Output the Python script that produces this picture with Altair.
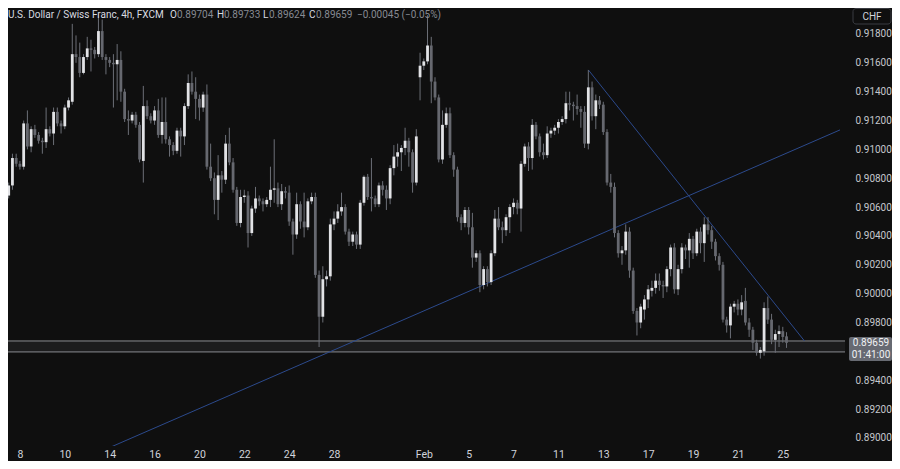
import json
import altair as alt
import pandas as pd

# ---------------- data (USD/CHF, 4h candles, FXCM) ----------------
OPEN = [
    0.9039, 0.9068, 0.9075, 0.9094, 0.9090, 0.9088, 0.9118, 0.9102, 0.9114, 0.9110,
    0.9106, 0.9105, 0.9114, 0.9111, 0.9126, 0.9118, 0.9116, 0.9129, 0.9133, 0.9166,
    0.9164, 0.9153, 0.9164, 0.9170, 0.9169, 0.9166, 0.9182, 0.9164, 0.9162, 0.9160,
    0.9159, 0.9162, 0.9140, 0.9121, 0.9120, 0.9124, 0.9117, 0.9092, 0.9130, 0.9123,
    0.9120, 0.9127, 0.9110, 0.9119, 0.9107, 0.9103, 0.9099, 0.9113, 0.9109, 0.9130,
    0.9146, 0.9140, 0.9135, 0.9129, 0.9138, 0.9088, 0.9080, 0.9065, 0.9082, 0.9079,
    0.9104, 0.9091, 0.9072, 0.9049, 0.9067, 0.9068, 0.9042, 0.9059, 0.9066, 0.9064,
    0.9062, 0.9065, 0.9072, 0.9073, 0.9062, 0.9071, 0.9070, 0.9050, 0.9041, 0.9062,
    0.9050, 0.9046, 0.9064, 0.9067, 0.9013, 0.8984, 0.9010, 0.9012, 0.9048, 0.9052,
    0.9057, 0.9060, 0.9043, 0.9036, 0.9041, 0.9034, 0.9063, 0.9081, 0.9067, 0.9066,
    0.9062, 0.9075, 0.9072, 0.9066, 0.9087, 0.9095, 0.9098, 0.9101, 0.9106, 0.9098,
    0.9077, 0.9150, 0.9158, 0.9161, 0.9172, 0.9147, 0.9136, 0.9093, 0.9117, 0.9125,
    0.9096, 0.9086, 0.9053, 0.9049, 0.9058, 0.9046, 0.9025, 0.9028, 0.9006, 0.9017,
    0.9008, 0.9028, 0.9052, 0.9046, 0.9044, 0.9053, 0.9060, 0.9063, 0.9059, 0.9090,
    0.9102, 0.9094, 0.9117, 0.9109, 0.9098, 0.9096, 0.9111, 0.9113, 0.9115, 0.9119,
    0.9121, 0.9132, 0.9131, 0.9130, 0.9128, 0.9126, 0.9104, 0.9143, 0.9123, 0.9134,
    0.9131, 0.9112, 0.9077, 0.9074, 0.9042, 0.9028, 0.9030, 0.9043, 0.9016, 0.8988,
    0.8980, 0.8989, 0.8996, 0.9002, 0.9004, 0.9009, 0.9006, 0.9005, 0.9017, 0.9032,
    0.9003, 0.9017, 0.9032, 0.9030, 0.9038, 0.9028, 0.9043, 0.9035, 0.9048, 0.9044,
    0.9036, 0.9026, 0.9020, 0.8982, 0.8978, 0.8991, 0.8993, 0.8989, 0.8995, 0.8980,
    0.8975, 0.8966, 0.8959, 0.8960, 0.8990, 0.8982, 0.8968, 0.8972, 0.8974, 0.89704,
]
HIGH = [
    0.9072, 0.9077, 0.9097, 0.9097, 0.9092, 0.9120, 0.9127, 0.9116, 0.9117, 0.9112,
    0.9108, 0.9129, 0.9116, 0.9129, 0.9129, 0.9120, 0.9131, 0.9136, 0.9187, 0.9179,
    0.9174, 0.9166, 0.9178, 0.9176, 0.9171, 0.9194, 0.9190, 0.9166, 0.9164, 0.9166,
    0.9173, 0.9168, 0.9142, 0.9127, 0.9126, 0.9126, 0.9119, 0.9144, 0.9134, 0.9125,
    0.9130, 0.9135, 0.9136, 0.9136, 0.9109, 0.9105, 0.9115, 0.9115, 0.9132, 0.9152,
    0.9154, 0.9150, 0.9138, 0.9140, 0.9145, 0.9104, 0.9084, 0.9096, 0.9085, 0.9110,
    0.9115, 0.9094, 0.9074, 0.9072, 0.9072, 0.9071, 0.9061, 0.9074, 0.9068, 0.9066,
    0.9067, 0.9088, 0.9107, 0.9077, 0.9076, 0.9074, 0.9075, 0.9052, 0.9070, 0.9064,
    0.9070, 0.9066, 0.9070, 0.9070, 0.9016, 0.9019, 0.9016, 0.9052, 0.9057, 0.9062,
    0.9070, 0.9062, 0.9045, 0.9043, 0.9043, 0.9065, 0.9082, 0.9083, 0.9094, 0.9068,
    0.9077, 0.9078, 0.9075, 0.9089, 0.9103, 0.9104, 0.9103, 0.9115, 0.9108, 0.9100,
    0.9114, 0.9167, 0.9163, 0.9193, 0.9178, 0.9150, 0.9138, 0.9127, 0.9129, 0.9129,
    0.9098, 0.9088, 0.9055, 0.9060, 0.9060, 0.9056, 0.9030, 0.9030, 0.9019, 0.9019,
    0.9030, 0.9058, 0.9060, 0.9050, 0.9055, 0.9062, 0.9066, 0.9065, 0.9092, 0.9104,
    0.9105, 0.9121, 0.9119, 0.9111, 0.9104, 0.9116, 0.9115, 0.9117, 0.9121, 0.9123,
    0.9140, 0.9140, 0.9133, 0.9138, 0.9130, 0.9130, 0.9155, 0.9147, 0.9138, 0.9137,
    0.9133, 0.9114, 0.9083, 0.9077, 0.9044, 0.9033, 0.9048, 0.9046, 0.9018, 0.8990,
    0.8993, 0.8999, 0.9006, 0.9009, 0.9014, 0.9014, 0.9009, 0.9019, 0.9034, 0.9035,
    0.9020, 0.9035, 0.9034, 0.9042, 0.9040, 0.9045, 0.9046, 0.9053, 0.9053, 0.9047,
    0.9038, 0.9028, 0.9022, 0.8984, 0.8993, 0.8995, 0.8996, 0.8999, 0.9004, 0.8983,
    0.8977, 0.8968, 0.8963, 0.8994, 0.8998, 0.8986, 0.8975, 0.8978, 0.8977, 0.89733,
]
LOW = [
    0.9037, 0.9066, 0.9072, 0.9088, 0.9086, 0.9086, 0.9100, 0.9098, 0.9108, 0.9104,
    0.9097, 0.9101, 0.9109, 0.9103, 0.9116, 0.9111, 0.9114, 0.9127, 0.9131, 0.9160,
    0.9150, 0.9152, 0.9162, 0.9154, 0.9163, 0.9164, 0.9162, 0.9152, 0.9157, 0.9129,
    0.9134, 0.9133, 0.9119, 0.9110, 0.9118, 0.9115, 0.9091, 0.9077, 0.9121, 0.9118,
    0.9117, 0.9108, 0.9104, 0.9104, 0.9095, 0.9096, 0.9097, 0.9095, 0.9103, 0.9128,
    0.9138, 0.9121, 0.9120, 0.9126, 0.9086, 0.9078, 0.9055, 0.9051, 0.9070, 0.9076,
    0.9089, 0.9070, 0.9047, 0.9046, 0.9063, 0.9032, 0.9040, 0.9056, 0.9061, 0.9057,
    0.9060, 0.9060, 0.9063, 0.9060, 0.9058, 0.9066, 0.9047, 0.9027, 0.9038, 0.9045,
    0.9039, 0.9044, 0.9062, 0.9011, 0.8963, 0.8980, 0.9005, 0.9009, 0.9044, 0.9049,
    0.9054, 0.9041, 0.9033, 0.9033, 0.9031, 0.9031, 0.9061, 0.9065, 0.9057, 0.9060,
    0.9060, 0.9068, 0.9058, 0.9062, 0.9082, 0.9088, 0.9085, 0.9096, 0.9088, 0.9070,
    0.9075, 0.9134, 0.9155, 0.9159, 0.9132, 0.9134, 0.9091, 0.9090, 0.9115, 0.9094,
    0.9081, 0.9050, 0.9044, 0.9046, 0.9041, 0.9018, 0.9022, 0.9001, 0.9003, 0.9005,
    0.9006, 0.9026, 0.9044, 0.9035, 0.9040, 0.9042, 0.9055, 0.9055, 0.9043, 0.9088,
    0.9085, 0.9086, 0.9107, 0.9095, 0.9093, 0.9094, 0.9108, 0.9110, 0.9111, 0.9117,
    0.9118, 0.9127, 0.9120, 0.9124, 0.9115, 0.9101, 0.9100, 0.9120, 0.9114, 0.9128,
    0.9110, 0.9075, 0.9070, 0.9039, 0.9025, 0.9020, 0.9027, 0.9011, 0.8986, 0.8971,
    0.8976, 0.8982, 0.8990, 0.8998, 0.9000, 0.9002, 0.8997, 0.9001, 0.9012, 0.9000,
    0.8999, 0.9014, 0.9024, 0.9018, 0.9024, 0.9026, 0.9028, 0.9022, 0.9041, 0.9031,
    0.9023, 0.9016, 0.8980, 0.8973, 0.8969, 0.8987, 0.8985, 0.8985, 0.8978, 0.8970,
    0.8961, 0.8957, 0.8955, 0.8957, 0.8979, 0.8965, 0.8959, 0.8963, 0.8966, 0.89624,
]
CLOSE = [
    0.9068, 0.9075, 0.9094, 0.9090, 0.9088, 0.9118, 0.9102, 0.9114, 0.9110, 0.9106,
    0.9105, 0.9114, 0.9111, 0.9126, 0.9118, 0.9116, 0.9129, 0.9134, 0.9166, 0.9164,
    0.9153, 0.9164, 0.9170, 0.9169, 0.9166, 0.9182, 0.9164, 0.9162, 0.9160, 0.9159,
    0.9162, 0.9140, 0.9121, 0.9120, 0.9124, 0.9117, 0.9093, 0.9130, 0.9123, 0.9120,
    0.9127, 0.9110, 0.9119, 0.9107, 0.9103, 0.9099, 0.9113, 0.9109, 0.9130, 0.9146,
    0.9140, 0.9135, 0.9129, 0.9138, 0.9088, 0.9080, 0.9065, 0.9082, 0.9079, 0.9104,
    0.9091, 0.9072, 0.9049, 0.9067, 0.9068, 0.9042, 0.9059, 0.9066, 0.9064, 0.9062,
    0.9065, 0.9072, 0.9073, 0.9062, 0.9071, 0.9070, 0.9050, 0.9041, 0.9062, 0.9050,
    0.9046, 0.9064, 0.9067, 0.9013, 0.8984, 0.9010, 0.9012, 0.9048, 0.9052, 0.9057,
    0.9060, 0.9043, 0.9036, 0.9041, 0.9034, 0.9063, 0.9081, 0.9067, 0.9066, 0.9062,
    0.9075, 0.9072, 0.9066, 0.9087, 0.9095, 0.9098, 0.9101, 0.9106, 0.9098, 0.9077,
    0.9109, 0.9158, 0.9161, 0.9172, 0.9147, 0.9136, 0.9093, 0.9117, 0.9125, 0.9096,
    0.9086, 0.9053, 0.9049, 0.9058, 0.9046, 0.9025, 0.9028, 0.9006, 0.9017, 0.9008,
    0.9028, 0.9052, 0.9046, 0.9044, 0.9053, 0.9060, 0.9063, 0.9059, 0.9090, 0.9102,
    0.9094, 0.9117, 0.9109, 0.9098, 0.9096, 0.9111, 0.9113, 0.9115, 0.9119, 0.9121,
    0.9132, 0.9131, 0.9130, 0.9128, 0.9126, 0.9104, 0.9143, 0.9123, 0.9134, 0.9131,
    0.9112, 0.9077, 0.9074, 0.9042, 0.9028, 0.9030, 0.9043, 0.9016, 0.8988, 0.8980,
    0.8991, 0.8996, 0.9003, 0.9004, 0.9009, 0.9006, 0.9005, 0.9017, 0.9032, 0.9003,
    0.9017, 0.9032, 0.9030, 0.9038, 0.9028, 0.9043, 0.9035, 0.9048, 0.9044, 0.9036,
    0.9026, 0.9020, 0.8982, 0.8978, 0.8991, 0.8993, 0.8989, 0.8994, 0.8980, 0.8975,
    0.8966, 0.8959, 0.8961, 0.8990, 0.8982, 0.8968, 0.8972, 0.8974, 0.8970, 0.89659,
]

# day labels (bar index of the first 4h bar of each labelled day)
DAY_TICKS = [4, 16, 28, 40, 52, 64, 76, 88, 112, 124, 136, 148, 160, 172, 184, 196, 208]
DAY_LABELS = ["8", "10", "14", "16", "20", "22", "24", "28", "Feb",
              "5", "7", "11", "13", "17", "19", "21", "25"]
PRICE_TICKS = [0.890, 0.892, 0.894, 0.898, 0.900, 0.902, 0.904, 0.906,
               0.908, 0.910, 0.912, 0.914, 0.916, 0.918]

# drawn objects (bar index, price)
RISE_K = [27.79, 223.3]
RISE_P = [0.88931, 0.91135]
FALL_K = [156.0, 213.8]
FALL_P = [0.91551, 0.89672]
ZONE = [0.89596, 0.89672]

HEADER_TITLE = "U.S. Dollar / Swiss Franc, 4h, FXCM"
OHLC_LETTERS = ["O", "H", "L", "C"]
OHLC_VALUES = ["0.89704", "0.89733", "0.89624", "0.89659"]
CHANGE_TEXT = "\u22120.00045 (\u22120.05%)"
LAST_PRICE_TEXT = "0.89659"
COUNTDOWN_TEXT = "01:41:00"

# ---------------- style ----------------
W, H = 837, 438
XDOM = [2.15, 223.3]
YDOM = [0.88944, 0.91980]
BG = "#0f0f0f"
BULL = "#e2e3e6"
BEAR = "#66686f"
WICK = "#6c6f77"
BLUE = "#2c4a8c"
FONT = "Roboto"

df = pd.DataFrame({"k": list(range(len(CLOSE))), "o": OPEN, "h": HIGH, "l": LOW, "c": CLOSE})
df["dir"] = ["up" if c >= o else "down" for o, c in zip(OPEN, CLOSE)]

xs = alt.Scale(domain=XDOM, nice=False, zero=False)
ys = alt.Scale(domain=YDOM, nice=False, zero=False)

label_expr = f"{json.dumps(DAY_LABELS)}[indexof({json.dumps(DAY_TICKS)}, datum.value)]"
X_AXIS = alt.Axis(
    values=DAY_TICKS, labelExpr=label_expr, title=None, grid=False, domain=False,
    ticks=False, tickSize=0, labelPadding=3, labelColor="#d1d4dc", labelFontSize=10.5,
    labelFont=FONT, labelOverlap=False, labelFlush=False,
    labelFontWeight={"condition": {"test": "datum.label == 'Feb'", "value": "bold"}, "value": "normal"},
)
Y_AXIS = alt.Axis(
    orient="right", values=PRICE_TICKS, format=".5f", title=None, grid=False,
    domain=False, ticks=False, tickSize=0, labelPadding=10, labelColor="#c5c7cc",
    labelFontSize=10, labelFont=FONT, labelAlign="left",
)

zone = alt.Chart(pd.DataFrame({"lo": [ZONE[0]], "hi": [ZONE[1]]})).mark_rect(
    color="#1c1c1d"
).encode(
    y=alt.Y("lo:Q", scale=ys, axis=Y_AXIS), y2="hi:Q", x=alt.value(0), x2=alt.value(W)
)
zone_lines = alt.Chart(pd.DataFrame({"p": ZONE})).mark_rule(
    color="#8a8c90", strokeWidth=1
).encode(y=alt.Y("p:Q", scale=ys, axis=Y_AXIS))

wicks = alt.Chart(df).mark_rule(color=WICK, strokeWidth=1, clip=True).encode(
    x=alt.X("k:Q", scale=xs, axis=X_AXIS),
    y=alt.Y("l:Q", scale=ys, axis=Y_AXIS),
    y2="h:Q",
)
bodies = alt.Chart(df).mark_bar(size=2.8, clip=True).encode(
    x=alt.X("k:Q", scale=xs, axis=X_AXIS),
    y=alt.Y("o:Q", scale=ys, axis=Y_AXIS),
    y2="c:Q",
    color=alt.Color("dir:N", scale=alt.Scale(domain=["up", "down"], range=[BULL, BEAR]), legend=None),
)

rise = alt.Chart(pd.DataFrame({"k": RISE_K, "p": RISE_P})).mark_line(
    color=BLUE, strokeWidth=1, clip=True
).encode(x=alt.X("k:Q", scale=xs, axis=X_AXIS), y=alt.Y("p:Q", scale=ys, axis=Y_AXIS))
fall = alt.Chart(pd.DataFrame({"k": FALL_K, "p": FALL_P})).mark_line(
    color=BLUE, strokeWidth=1, clip=True
).encode(x=alt.X("k:Q", scale=xs, axis=X_AXIS), y=alt.Y("p:Q", scale=ys, axis=Y_AXIS))

one = pd.DataFrame({"a": [0]})


def label(text, x, y, color, size=10.5, weight="normal", align="left"):
    return alt.Chart(one).mark_text(
        text=text, font=FONT, fontSize=size, color=color, fontWeight=weight,
        align=align, baseline="middle",
    ).encode(x=alt.value(x), y=alt.value(y))


HY = 7
header = [label(HEADER_TITLE, 0, HY, "#d9dbe0", size=10)]
for letter, value, lx, vx in zip(OHLC_LETTERS, OHLC_VALUES, [162, 209, 255, 301], [169, 216, 261, 308]):
    header.append(label(letter, lx, HY, "#d9dbe0", size=10))
    header.append(label(value, vx, HY, "#878a92", size=10))
header.append(label(CHANGE_TEXT, 349, HY, "#878a92", size=10))

price_box = alt.Chart(one).mark_rect(color="#676a72", cornerRadius=2).encode(
    x=alt.value(841), x2=alt.value(884), y=alt.value(329), y2=alt.value(353)
)
price_txt = label(LAST_PRICE_TEXT, 863, 335, "#f0f1f3", size=10, align="center")
count_txt = label(COUNTDOWN_TEXT, 863, 347, "#f0f1f3", size=10, align="center")

chf_box = alt.Chart(one).mark_rect(
    fill=BG, stroke="#3a3c42", strokeWidth=1, cornerRadius=3
).encode(x=alt.value(845), x2=alt.value(883), y=alt.value(0.5), y2=alt.value(16))
chf_txt = label("CHF", 864, 8.5, "#d1d4dc", size=10, align="center")

chart = alt.layer(
    zone, zone_lines, rise, fall, wicks, bodies, *header, price_box, price_txt, count_txt,
    chf_box, chf_txt,
).properties(
    width=W, height=H, autosize="none",
    padding={"left": 0, "top": 0, "right": 47, "bottom": 15},
).configure(background=BG).configure_view(stroke=None)

chart.save("out.html", embed_options={"renderer": "svg", "actions": False})
